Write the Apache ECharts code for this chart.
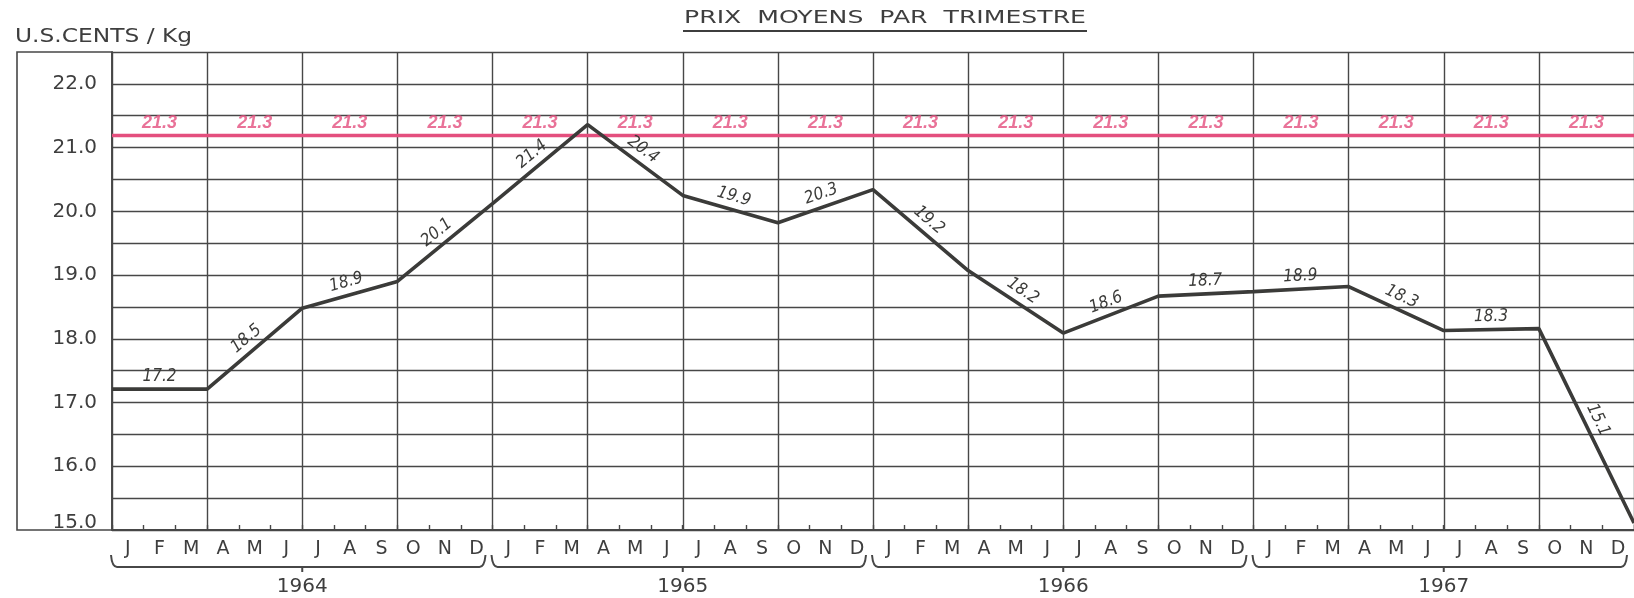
<!DOCTYPE html>
<html>
<head>
<meta charset="utf-8">
<script src="https://cdn.jsdelivr.net/npm/echarts@6/dist/echarts.min.js"></script>
<style>
html,body{margin:0;padding:0;background:#ffffff;}
#c{width:1634px;height:598px;}
</style>
</head>
<body>
<div id="c"></div>
<script>
// ---------- data ----------
const monthLetters = ['J','F','M','A','M','J','J','A','S','O','N','D'];
const years = ['1964','1965','1966','1967'];
const yearStartMonth = [0, 12, 24, 36];
const yearEndMonth = [12, 24, 36, 48];
// price line vertices (month index from Jan 1964, value in US cents / kg)
const priceMonths = [0, 3, 6, 9, 12, 15, 18, 21, 24, 27, 30, 33, 36, 39, 42, 45, 48];
const priceValues = [17.21, 17.21, 18.48, 18.90, 20.12, 21.36, 20.25, 19.82, 20.34, 19.07, 18.09, 18.67, 18.74, 18.82, 18.13, 18.16, 15.11];
// quarterly average labels written along each segment
const quarterLabels = ['17.2','18.5','18.9','20.1','21.4','20.4','19.9','20.3','19.2','18.2','18.6','18.7','18.9','18.3','18.3','15.1'];
// reference line (period average)
const refValue = 21.19;
const refLabels = ['21.3','21.3','21.3','21.3','21.3','21.3','21.3','21.3','21.3','21.3','21.3','21.3','21.3','21.3','21.3','21.3'];
const titleText = 'PRIX  MOYENS  PAR  TRIMESTRE';
const unitText = 'U.S.CENTS / Kg';

const months = [];
years.forEach(() => monthLetters.forEach(m => months.push(m)));

// ---------- style ----------
const GRID = '#474747';
const INK = '#3b3b39';
const TXT = '#3e3e3e';
const PINK = '#e44f7e';
const FONT = '"DejaVu Sans", sans-serif';

const cv = document.createElement('canvas').getContext('2d');
function hasFont(name) {
  const probe = '18.7 abcMWil';
  cv.font = '40px monospace';
  const w0 = cv.measureText(probe).width;
  cv.font = '40px "' + name + '", monospace';
  return Math.abs(cv.measureText(probe).width - w0) > 0.5;
}
let segFont = 'italic 17px "Liberation Sans", sans-serif';
if (hasFont('Liberation Sans Narrow')) segFont = 'italic 19px "Liberation Sans Narrow", sans-serif';
else if (hasFont('DejaVu Sans Condensed')) segFont = 'oblique 17px "DejaVu Sans Condensed", sans-serif';

// title / unit text widths (stretched horizontally like the lettering of the original)
cv.font = '17px "DejaVu Sans"';
const titleNatural = cv.measureText(titleText).width;
const titleX = 885, titleSpan = 402;
cv.font = '19px "DejaVu Sans"';
const unitNatural = cv.measureText(unitText).width;
const unitSpan = 177;

const chart = echarts.init(document.getElementById('c'), null, {renderer: 'canvas'});

const option = {
  backgroundColor: '#ffffff',
  animation: false,
  grid: [
    {left: 112, right: 0, top: 52, bottom: 68},
    {left: 17, width: 95, top: 52, bottom: 68, show: true, borderColor: GRID, borderWidth: 1.6, backgroundColor: 'transparent'}
  ],
  xAxis: [
    {type: 'value', gridIndex: 0, position: 'bottom', min: 0, max: 48, interval: 3,
      axisLabel: {show: false}, axisTick: {show: false}, axisLine: {show: false},
      splitLine: {show: true, lineStyle: {color: GRID, width: 1.4}}},
    {type: 'category', gridIndex: 0, position: 'bottom', data: months, boundaryGap: true,
      axisLine: {show: true, lineStyle: {color: GRID, width: 2}},
      axisTick: {show: true, inside: true, length: 5, interval: 0, lineStyle: {color: GRID, width: 1.4}},
      axisLabel: {interval: 0, margin: 10, color: TXT, fontFamily: FONT, fontSize: 19},
      splitLine: {show: false}},
    {type: 'category', gridIndex: 0, position: 'bottom', offset: 40, data: years,
      axisLine: {show: false}, axisTick: {show: false},
      axisLabel: {margin: 7, color: TXT, fontFamily: FONT, fontSize: 20},
      splitLine: {show: false}},
    {type: 'value', gridIndex: 1, show: false, min: 0, max: 1}
  ],
  yAxis: [
    {type: 'value', gridIndex: 0, min: 15, max: 22.5, interval: 0.5,
      axisLine: {show: true, lineStyle: {color: GRID, width: 1.6}},
      axisTick: {show: false},
      splitLine: {show: true, lineStyle: {color: GRID, width: 1.4}},
      axisLabel: {margin: 15, color: TXT, fontFamily: FONT, fontSize: 20,
        formatter: v => {
          if (Math.abs(v - Math.round(v)) > 1e-6 || v > 22.01) return '';
          const s = v.toFixed(1);
          return Math.abs(v - 15) < 1e-6 ? '{low|' + s + '}' : s;
        },
        rich: {low: {fontFamily: FONT, fontSize: 20, color: TXT, padding: [0, 0, 14, 0]}}
      }},
    {type: 'value', gridIndex: 1, show: false, min: 0, max: 1}
  ],
  graphic: [
    {type: 'text', x: titleX, y: 19, scaleX: titleSpan / titleNatural,
      style: {text: titleText, font: '17px "DejaVu Sans"', fill: TXT, align: 'center', verticalAlign: 'middle'}},
    {type: 'line', shape: {x1: titleX - titleSpan / 2 - 1, y1: 31, x2: titleX + titleSpan / 2 + 1, y2: 31},
      style: {stroke: TXT, lineWidth: 2}},
    {type: 'text', x: 15, y: 37, scaleX: unitSpan / unitNatural,
      style: {text: unitText, font: '19px "DejaVu Sans"', fill: TXT, align: 'left', verticalAlign: 'middle'}}
  ],
  series: [
    {
      type: 'line', name: 'ref', xAxisIndex: 0, yAxisIndex: 0, z: 4,
      data: [[0, refValue], [48, refValue]],
      symbol: 'none', lineStyle: {color: PINK, width: 3.5}, silent: true
    },
    {
      type: 'scatter', name: 'refLabels', xAxisIndex: 0, yAxisIndex: 0, z: 6,
      data: refLabels.map((t, i) => [i * 3 + 1.5, refValue]),
      symbolSize: 0, silent: true,
      label: {show: true, position: 'top', distance: 3,
        formatter: p => refLabels[p.dataIndex],
        color: PINK, fontFamily: '"Liberation Sans", sans-serif', fontStyle: 'italic', fontWeight: 'bold', fontSize: 18}
    },
    {
      type: 'line', name: 'price', xAxisIndex: 0, yAxisIndex: 0, z: 5,
      data: priceMonths.map((m, i) => [m, priceValues[i]]),
      symbol: 'none', lineStyle: {color: INK, width: 3.6}, silent: true
    },
    {
      type: 'custom', name: 'quarterLabels', xAxisIndex: 0, yAxisIndex: 0, z: 7, silent: true,
      data: quarterLabels.map((t, i) => [priceMonths[i], priceValues[i]]),
      renderItem: (params, api) => {
        const i = params.dataIndex;
        const a = api.coord([priceMonths[i], priceValues[i]]);
        const b = api.coord([priceMonths[i + 1], priceValues[i + 1]]);
        const ang = Math.atan2(b[1] - a[1], b[0] - a[0]);
        const mx = (a[0] + b[0]) / 2, my = (a[1] + b[1]) / 2;
        const off = 13;
        return {
          type: 'text',
          x: mx + off * Math.sin(ang), y: my - off * Math.cos(ang),
          rotation: -ang,
          style: {text: quarterLabels[i], font: segFont, fill: INK, align: 'center', verticalAlign: 'middle'}
        };
      }
    },
    {
      type: 'custom', name: 'yearBraces', xAxisIndex: 0, yAxisIndex: 0, z: 3, silent: true, clip: false,
      data: years.map((y, i) => [yearStartMonth[i], 15]),
      renderItem: (params, api) => {
        const i = params.dataIndex;
        const a = api.coord([yearStartMonth[i], 15]);
        const b = api.coord([yearEndMonth[i], 15]);
        const y0 = a[1] + 25, y1 = a[1] + 37, xm = (a[0] + b[0]) / 2;
        const xl = a[0] - 1, xr = b[0] - 7;
        const d = 'M' + xl + ' ' + y0 + ' Q' + (xl + 1) + ' ' + y1 + ' ' + (xl + 6) + ' ' + y1 +
          ' L' + (xr - 6) + ' ' + y1 + ' Q' + (xr - 1) + ' ' + y1 + ' ' + xr + ' ' + y0 +
          ' M' + xm + ' ' + y1 + ' L' + xm + ' ' + (y1 + 5);
        return {type: 'path', shape: {pathData: d}, style: {fill: null, stroke: GRID, lineWidth: 2}};
      }
    }
  ]
};
chart.setOption(option);
</script>
</body>
</html>
